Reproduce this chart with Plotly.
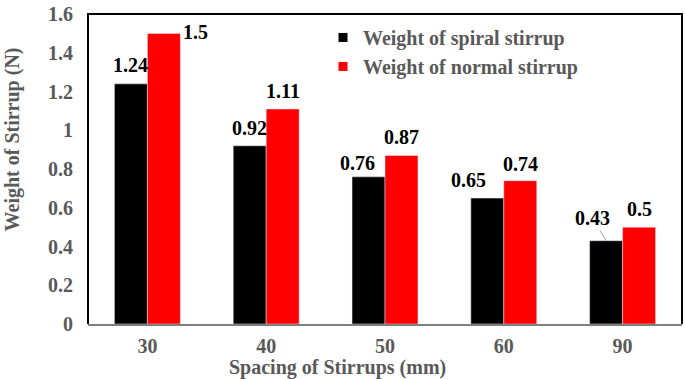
import plotly.graph_objects as go

categories = ["30", "40", "50", "60", "90"]
spiral = [1.24, 0.92, 0.76, 0.65, 0.43]
normal = [1.50, 1.11, 0.87, 0.74, 0.50]
spiral_name = "Weight of spiral stirrup"
normal_name = "Weight of normal stirrup"
y_ticks = [0, 0.2, 0.4, 0.6, 0.8, 1.0, 1.2, 1.4, 1.6]
y_tick_text = ["0", "0.2", "0.4", "0.6", "0.8", "1", "1.2", "1.4", "1.6"]

FONT = "Liberation Serif"
GRAY = "#595959"

fig = go.Figure()
fig.add_trace(go.Bar(x=categories, y=spiral, marker_color="black", showlegend=False))
fig.add_trace(go.Bar(x=categories, y=normal, marker_color="#ff0000", showlegend=False))
# legend entries (small square markers)
fig.add_trace(go.Scatter(x=[None], y=[None], mode="markers", name="<b>%s</b>" % spiral_name,
                         marker=dict(symbol="square", size=9, color="black")))
fig.add_trace(go.Scatter(x=[None], y=[None], mode="markers", name="<b>%s</b>" % normal_name,
                         marker=dict(symbol="square", size=9, color="#ff0000")))

half = 0.2775 / 2
# label offsets (xshift, yshift) in pixels
spiral_off = [(0, 19), (0, 18), (-11, 14), (-19, 18), (None, None)]
normal_off = [(32, 1), (0, 18), (0, 18), (0, 17), (0, 18)]
for i, v in enumerate(spiral):
    xs, ys = spiral_off[i]
    if xs is None:
        fig.add_annotation(x=i - half, y=v, text="<b>%g</b>" % v, showarrow=True,
                           arrowhead=0, arrowwidth=1, arrowcolor="#a6a6a6",
                           ax=-14, ay=-23, standoff=0,
                           font=dict(family=FONT, size=20, color="black"))
    else:
        fig.add_annotation(x=i - half, y=v, text="<b>%g</b>" % v, showarrow=False,
                           xshift=xs, yshift=ys, yanchor="middle",
                           font=dict(family=FONT, size=20, color="black"))
for i, v in enumerate(normal):
    xs, ys = normal_off[i]
    fig.add_annotation(x=i + half, y=v, text="<b>%g</b>" % v, showarrow=False,
                       xshift=xs, yshift=ys, yanchor="middle",
                       font=dict(family=FONT, size=20, color="black"))

# axis titles
fig.add_annotation(xref="paper", yref="paper", x=(337 - 88) / 594, y=(324 - 368.5) / 314,
                   text="<b>Spacing of Stirrups (mm)</b>", showarrow=False,
                   xanchor="center", yanchor="middle",
                   font=dict(family=FONT, size=20, color=GRAY))
fig.add_annotation(xref="paper", yref="paper", x=(12 - 88) / 594, y=(324 - 137) / 314,
                   text="<b>Weight of Stirrup (N)</b>", showarrow=False, textangle=-90,
                   xanchor="center", yanchor="middle",
                   font=dict(family=FONT, size=20, color=GRAY))

# plot area box (top, left, right black)
fig.add_shape(type="path", xref="paper", yref="paper",
              path="M 0 0 L 0 1 L 1 1 L 1 0", line=dict(color="black", width=2))

fig.update_layout(
    width=685, height=379,
    margin=dict(l=88, r=3, t=10, b=55),
    paper_bgcolor="white", plot_bgcolor="white",
    barmode="group", bargap=0.445, bargroupgap=0,
    font=dict(family=FONT, size=20, color=GRAY),
    legend=dict(x=(323 - 88) / 594, y=(324 - 14) / 314, xanchor="left", yanchor="top",
                bgcolor="rgba(0,0,0,0)", font=dict(family=FONT, size=20, color=GRAY),
                itemwidth=30, tracegroupgap=0),
    xaxis=dict(type="category", showgrid=False, showline=True, linecolor="#7f7f7f",
               linewidth=2, ticks="", tickfont=dict(family=FONT, size=20, color=GRAY),
               tickprefix="<b>", ticksuffix="</b>", ticklabelstandoff=3),
    yaxis=dict(range=[0, 1.6005], tickvals=y_ticks, ticktext=["<b>%s</b>" % t for t in y_tick_text],
               showgrid=False, zeroline=False, showline=False, ticks="",
               ticklabeloverflow="allow",
               tickfont=dict(family=FONT, size=20, color=GRAY), ticklabelstandoff=14),
)

fig.write_html("out.html", config={"displayModeBar": False},
               post_script="document.body.style.margin='0';document.body.style.overflow='hidden';")
